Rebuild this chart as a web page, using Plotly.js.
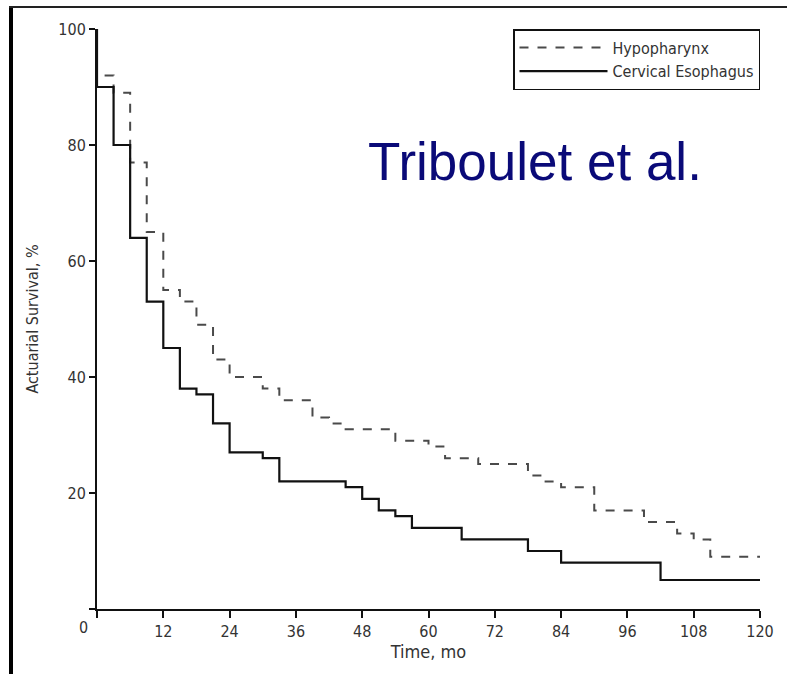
<!DOCTYPE html>
<html>
<head>
<meta charset="utf-8">
<script src="https://cdn.plot.ly/plotly-3.0.1.min.js"></script>
<style>html,body{margin:0;padding:0;background:#fff;}#chart{width:787px;height:674px;}</style>
</head>
<body>
<div id="chart"></div>
<script>
// Hypopharynx (dashed) step survival curve
var hypoMonths = [0, 0, 3, 6, 9, 12, 15, 18, 21, 24, 30, 33, 39, 42, 45, 54, 60, 63, 69, 78, 81, 84, 90, 99, 105, 108, 111, 120];
var hypoSurvival = [100, 92, 89, 77, 65, 55, 53, 49, 43, 40, 38, 36, 33, 32, 31, 29, 28, 26, 25, 23, 22, 21, 17, 15, 13, 12, 9, 9];

// Cervical Esophagus (solid) step survival curve
var cervMonths = [0, 0, 3, 6, 9, 12, 15, 18, 21, 24, 30, 33, 45, 48, 51, 54, 57, 66, 78, 84, 102, 120];
var cervSurvival = [100, 90, 80, 64, 53, 45, 38, 37, 32, 27, 26, 22, 21, 19, 17, 16, 14, 12, 10, 8, 5, 5];

var xTickVals = [0, 12, 24, 36, 48, 60, 72, 84, 96, 108, 120];
var xTickText = ["", "12", "24", "36", "48", "60", "72", "84", "96", "108", "120"];
var yTickVals = [0, 20, 40, 60, 80, 100];
var yTickText = ["", "20", "40", "60", "80", "100"];

var narrow = "DejaVu Sans Condensed, Liberation Sans Narrow, Liberation Sans, sans-serif";

var traces = [
  {
    x: hypoMonths, y: hypoSurvival, name: "Hypopharynx", type: "scatter", mode: "lines",
    line: {shape: "hv", color: "#4a4a4a", width: 2, dash: "dash"}
  },
  {
    x: cervMonths, y: cervSurvival, name: "Cervical Esophagus", type: "scatter", mode: "lines",
    line: {shape: "hv", color: "#111111", width: 2.2}
  }
];

var layout = {
  width: 787, height: 674,
  margin: {l: 97, r: 27, t: 29, b: 65},
  paper_bgcolor: "#ffffff", plot_bgcolor: "#ffffff",
  showlegend: true,
  legend: {
    x: 1, xanchor: "right", y: 1.0, yanchor: "top",
    bordercolor: "#111", borderwidth: 1.5, bgcolor: "#fff",
    font: {family: narrow, size: 16, color: "#333"},
    itemwidth: 88, tracegroupgap: 0
  },
  xaxis: {
    range: [0, 120], showgrid: false, zeroline: false,
    showline: true, linecolor: "#111", linewidth: 2,
    ticks: "outside", ticklen: 7, tickwidth: 2, tickcolor: "#111",
    tickvals: xTickVals, ticktext: xTickText,
    tickfont: {family: narrow, size: 16, color: "#333"},
    title: {text: "Time, mo", font: {family: narrow, size: 18, color: "#333"}, standoff: 5}
  },
  yaxis: {
    range: [0, 100], showgrid: false, zeroline: false,
    showline: true, linecolor: "#111", linewidth: 2,
    ticks: "outside", ticklen: 6, tickwidth: 2, tickcolor: "#111",
    tickvals: yTickVals, ticktext: yTickText,
    tickfont: {family: narrow, size: 16, color: "#333"},
    title: {text: "Actuarial Survival, %", font: {family: narrow, size: 16, color: "#333"}, standoff: 16}
  },
  annotations: [
    {
      text: "Triboulet et al.", xref: "paper", yref: "paper",
      x: (535 - 97) / 663, y: (609 - 162) / 580, xanchor: "center", yanchor: "middle",
      showarrow: false, font: {family: "Liberation Sans, Arial, sans-serif", size: 53, color: "#0a0a78"}
    },
    {
      text: "0", xref: "paper", yref: "paper",
      x: (83 - 97) / 663, y: (609 - 627) / 580, xanchor: "center", yanchor: "middle",
      showarrow: false, font: {family: narrow, size: 16, color: "#333"}
    }
  ],
  shapes: [
    {type: "line", xref: "paper", yref: "paper", x0: (11 - 97) / 663, x1: (11 - 97) / 663,
     y0: (609 - 6) / 580, y1: (609 - 674) / 580, line: {color: "#000", width: 4}},
    {type: "line", xref: "paper", yref: "paper", x0: (9 - 97) / 663, x1: (790 - 97) / 663,
     y0: (609 - 7) / 580, y1: (609 - 7) / 580, line: {color: "#222", width: 2}}
  ]
};

Plotly.newPlot("chart", traces, layout, {displayModeBar: false, staticPlot: true});
</script>
</body>
</html>
